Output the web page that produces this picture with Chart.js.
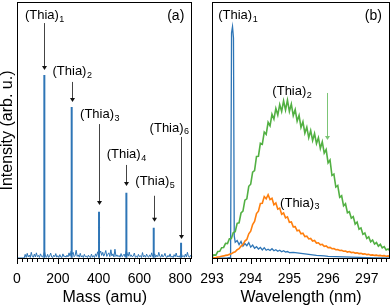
<!DOCTYPE html>
<html><head><meta charset="utf-8">
<script src="https://cdn.jsdelivr.net/npm/chart.js@4/dist/chart.umd.min.js"></script>
<style>
html,body{margin:0;padding:0;background:#fff;}
#wrap{position:relative;width:392px;height:307px;overflow:hidden;background:#fff;}
canvas{position:absolute;top:0;}
#ca{left:0;} #cb{left:196px;}
</style></head>
<body><div id="wrap"><canvas id="ca" width="196" height="307"></canvas><canvas id="cb" width="196" height="307"></canvas></div>
<script>
// ---------- Panel (a): mass spectrum ----------
const massAxis = [0,5,10,15,20,25,30,35,40,45,50,55,60,65,70,75,80,85,90,95,100,105,110,115,120,125,130,135,140,145,150,155,160,165,170,175,180,185,190,195,200,205,210,215,220,225,230,235,240,245,250,255,260,265,270,275,280,285,290,295,300,305,310,315,320,325,330,335,340,345,350,355,360,365,370,375,380,385,390,395,400,405,410,415,420,425,430,435,440,445,450,455,460,465,470,475,480,485,490,495,500,505,510,515,520,525,530,535,540,545,550,555,560,565,570,575,580,585,590,595,600,605,610,615,620,625,630,635,640,645,650,655,660,665,670,675,680,685,690,695,700,705,710,715,720,725,730,735,740,745,750,755,760,765,770,775,780,785,790,795,800,805,810,815,820,825,830,835,840,845,850,855,860];
const massNoise = [
0.4,0.4,0.4,0.4,0.4,0.4,0.4,0.4,1.8,0.6,
2.2,0.8,1.5,0.6,2.6,1.0,0.7,1.9,0.8,2.4,
0.9,1.4,0.6,2.0,1.1,0.7,1.6,2.9,1.0,0.7,
1.8,0.6,1.2,2.3,0.8,0.6,1.5,0.9,2.1,0.7,
1.3,0.6,1.7,0.8,0.6,2.0,0.9,1.2,0.7,1.5,
0.8,2.4,1.1,3.0,1.9,2.6,0.9,1.4,3.4,1.0,
1.6,0.7,2.2,0.8,1.3,0.6,1.8,0.9,1.1,0.6,
1.5,0.8,0.6,1.9,0.7,1.3,0.6,2.0,1.0,2.8,
1.2,2.2,3.1,1.4,2.6,1.1,2.0,3.3,1.0,1.8,
2.4,0.9,3.6,1.2,2.0,0.8,3.8,1.0,1.6,0.9,
1.4,0.7,2.1,0.9,1.3,1.9,0.8,3.2,2.2,1.1,
2.7,1.0,1.6,0.8,1.2,2.3,0.7,1.1,0.6,1.8,
0.9,1.3,0.6,2.5,0.8,1.4,0.7,1.9,1.0,0.7,
1.6,0.8,2.4,1.0,1.3,2.0,0.7,1.5,0.9,2.6,
1.0,0.7,1.8,0.8,1.2,2.2,0.9,0.6,1.4,0.8,
2.0,0.7,1.1,0.6,1.7,0.9,2.3,0.8,1.2,0.7,
1.5,2.4,0.9,1.3,0.7,1.9,0.8,2.6,1.0,0.7,
1.4,0.8,1.2];
const peakMass = [134, 268, 402, 536, 670, 804];
const peakInt  = [71.6, 59.1, 18.4, 25.8, 12.2, 6.3];
const peakNames = ['1','2','3','4','5','6'];
const massTicks = [0, 200, 400, 600, 800];

// ---------- Panel (b): emission spectra ----------
const wl = [293.00,293.05,293.10,293.15,293.20,293.25,293.30,293.35,293.40,293.45,
293.50,293.55,293.60,293.65,293.70,293.75,293.80,293.85,293.90,293.95,
294.00,294.05,294.10,294.15,294.20,294.25,294.30,294.35,294.40,294.45,
294.50,294.55,294.60,294.65,294.70,294.75,294.80,294.85,294.90,294.95,
295.00,295.05,295.10,295.15,295.20,295.25,295.30,295.35,295.40,295.45,
295.50,295.55,295.60,295.65,295.70,295.75,295.80,295.85,295.90,295.95,
296.00,296.05,296.10,296.15,296.20,296.25,296.30,296.35,296.40,296.45,
296.50,296.55,296.60,296.65,296.70,296.75,296.80,296.85,296.90,296.95,
297.00,297.05,297.10,297.15,297.20,297.25,297.30,297.35,297.40,297.45,
297.50,297.55,297.60];
const thia2 = [
0.9,1.6,1.5,2.9,3.0,4.4,4.5,6.1,6.0,7.9,
8.0,10.3,10.6,13.9,14.1,17.9,18.6,22.9,23.4,28.3,
29.1,33.8,34.4,39.9,40.0,45.0,44.6,49.4,48.5,53.2,
51.8,56.3,54.4,58.6,56.0,60.1,57.4,61.5,58.0,61.8,
57.4,60.3,55.8,58.1,53.6,55.9,51.2,53.4,49.0,51.3,
47.2,50.0,46.1,48.8,44.9,47.2,43.0,45.6,41.2,42.6,
37.4,38.5,32.5,33.0,28.0,28.6,24.0,24.6,20.7,21.5,
18.0,18.4,15.9,16.5,13.6,14.4,11.6,12.1,9.6,10.1,
8.0,8.6,6.7,7.4,5.8,6.4,5.0,5.7,4.3,4.8,
3.5,3.9,3.1];
const thia3 = [
0.3,0.5,0.6,0.8,0.9,1.1,1.2,1.4,1.5,1.8,
2.0,2.5,2.8,3.6,4.0,5.0,5.6,7.0,7.6,9.8,
10.8,13.4,14.6,17.7,18.6,21.6,21.7,24.3,23.4,25.0,
23.1,23.6,21.1,21.8,19.4,19.8,17.4,17.9,16.0,16.4,
14.3,14.4,12.5,12.6,11.0,11.2,9.8,10.0,8.7,8.9,
7.8,8.0,7.0,7.2,6.2,6.3,5.5,5.7,4.9,5.1,
4.4,4.5,4.0,4.1,3.6,3.7,3.3,3.4,3.0,3.1,
2.7,2.9,2.5,2.6,2.3,2.4,2.1,2.2,1.9,2.0,
1.7,1.8,1.5,1.6,1.4,1.5,1.3,1.4,1.2,1.3,
1.1,1.2,1.0];
const blueWl = [293.00,293.20,293.40,293.48,293.505,293.53,293.555,293.575,
293.60,293.65,293.70,293.75,293.80,293.85,293.90,293.95,294.00,294.05,294.10,294.15,294.20,294.25,294.30,294.35,294.40,294.45,294.50,294.55,294.60,294.65,294.70,294.75,294.80,294.85,294.90,294.95,295.00,
295.10,295.20,295.30,295.40,295.50,295.60,295.70,295.80,295.90,296.00,
296.20,296.40,296.60,296.80,297.00,297.20,297.40,297.60];
const thia1 = [0.3,0.3,0.4,0.6,88,90.4,86,9,
6.5,7.2,5.6,6.8,5.0,6.0,5.2,6.4,4.6,5.4,4.2,4.8,3.9,4.5,3.5,4.4,3.4,3.8,3.3,4.0,3.2,3.6,3.0,3.4,2.8,3.2,2.7,2.9,2.5,
2.6,2.4,2.2,2.0,1.8,1.6,1.4,1.3,1.2,1.0,
0.9,0.8,0.7,0.6,0.5,0.4,0.4,0.3];
const wlTicks = [293, 294, 295, 296, 297];

const FONT = '"Liberation Sans", Arial, Helvetica, sans-serif';
Chart.defaults.font.family = FONT;
Chart.defaults.color = '#000';

const BLUE = '#2e75b6', GREEN = '#52b043', ORANGE = '#ff7f0e';

const framePlugin = {
  id: 'frame',
  afterDraw(chart) {
    const o = chart.options.plugins.frame;
    if (!o) return;
    const ctx = chart.ctx, a = chart.chartArea;
    const xs = chart.scales.x, ys = chart.scales.y;
    ctx.save();
    const L = Math.round(a.left) + 0.5, R = Math.round(a.right) - 0.5;
    const T = Math.round(a.top) + 0.5, B = Math.round(a.bottom) - 0.5;
    ctx.strokeStyle = '#000'; ctx.lineWidth = 1;
    ctx.strokeRect(L, T, R - L, B - T);
    ctx.beginPath();
    for (let v = o.min; v <= o.max + 1e-9; v += o.minorStep) {
      const px = Math.round(xs.getPixelForValue(v)) + 0.5;
      if (px < L - 0.1 || px > R + 0.1) continue;
      ctx.moveTo(px, B); ctx.lineTo(px, B + 3.5);
    }
    o.major.forEach(v => {
      const px = Math.round(xs.getPixelForValue(v)) + 0.5;
      ctx.moveTo(px, B); ctx.lineTo(px, B + 5.5);
    });
    ctx.stroke();
    (o.arrows || []).forEach(ar => {
      const px = Math.round(xs.getPixelForValue(ar.x)) + 0.5;
      const y1 = ys.getPixelForValue(ar.y1), y2 = ys.getPixelForValue(ar.y2);
      ctx.strokeStyle = ar.color; ctx.fillStyle = ar.headColor || ar.color; ctx.lineWidth = 1;
      ctx.beginPath(); ctx.moveTo(px, y1); ctx.lineTo(px, y2 - 3); ctx.stroke();
      ctx.beginPath(); ctx.moveTo(px - 2.5, y2 - 4); ctx.lineTo(px + 2.5, y2 - 4); ctx.lineTo(px, y2); ctx.closePath(); ctx.fill();
    });
    ctx.fillStyle = '#000'; ctx.textBaseline = 'middle'; ctx.textAlign = 'left';
    (o.labels || []).forEach(lb => {
      const cx = xs.getPixelForValue(lb.x), cy = ys.getPixelForValue(lb.y);
      ctx.font = lb.size + 'px ' + FONT;
      const w1 = ctx.measureText(lb.main).width;
      let w2 = 0;
      if (lb.sub) { ctx.font = Math.round(lb.size * 0.7) + 'px ' + FONT; w2 = ctx.measureText(lb.sub).width + 0.5; }
      const left = cx - (w1 + w2) / 2;
      ctx.font = lb.size + 'px ' + FONT;
      ctx.fillText(lb.main, left, cy);
      if (lb.sub) { ctx.font = Math.round(lb.size * 0.7) + 'px ' + FONT; ctx.fillText(lb.sub, left + w1 + 0.5, cy + 4); }
    });
    ctx.restore();
  }
};

function xAxis(min, max, ticks, title) {
  return {
    type: 'linear', min: min, max: max,
    afterBuildTicks: s => { s.ticks = ticks.map(v => ({ value: v })); },
    afterFit: s => { s.height = 48; },
    grid: { display: false },
    border: { display: false },
    ticks: { padding: 4, font: { size: 14 }, maxRotation: 0, autoSkip: false, color: '#000' },
    title: { display: true, text: title, font: { size: 16 }, padding: { top: 0, bottom: 0 }, color: '#000' }
  };
}

// Panel (a)
const noisePts = massNoise.map((v, i) => ({ x: massAxis[i], y: v }));
const peakPts = [];
peakMass.forEach((m, i) => { peakPts.push({ x: m, y: 0.5 }, { x: m, y: peakInt[i] }, { x: m, y: null }); });

const labA = [
  { x: 135.3, y: 94.6 }, { x: 270.6, y: 72.8 }, { x: 405.8, y: 56.4 },
  { x: 536.3, y: 40.5 }, { x: 676.4, y: 30.1 }, { x: 746.5, y: 51.0 }
];
const arrowTopA = [91.8, 68.9, 52.5, 36.6, 24.6, 47.5];
const arrowBotA = [73.5, 61.1, 21.0, 28.4, 14.5, 7.8];

new Chart(document.getElementById('ca'), {
  type: 'line',
  data: { datasets: [
    { data: noisePts, borderColor: BLUE, borderWidth: 1, pointRadius: 0, tension: 0, fill: false },
    { data: peakPts, borderColor: BLUE, borderWidth: 2, pointRadius: 0, tension: 0, fill: false, spanGaps: false }
  ] },
  options: {
    responsive: false, animation: false, events: [],
    layout: { padding: { top: 2, right: 1, left: 0, bottom: 0 } },
    scales: {
      x: xAxis(0, 860, massTicks, 'Mass (amu)'),
      y: {
        type: 'linear', min: 0, max: 100,
        afterFit: s => { s.width = 17; },
        grid: { display: false }, border: { display: false },
        ticks: { display: false },
        title: { display: true, text: 'Intensity (arb. u.)', font: { size: 16, lineHeight: 1 }, padding: 0, color: '#000' }
      }
    },
    plugins: {
      legend: { display: false }, tooltip: { enabled: false },
      frame: {
        min: 0, max: 860, minorStep: 25, major: massTicks,
        arrows: peakMass.map((m, i) => ({ x: m, y1: arrowTopA[i], y2: arrowBotA[i], color: '#444', headColor: '#111' })),
        labels: labA.map((p, i) => ({ x: p.x, y: p.y, main: '(Thia)', sub: peakNames[i], size: 13 }))
          .concat([{ x: 778, y: 94.6, main: '(a)', sub: '', size: 14 }])
      }
    }
  },
  plugins: [framePlugin]
});

// Panel (b)
new Chart(document.getElementById('cb'), {
  type: 'line',
  data: { datasets: [
    { data: thia2.map((v, i) => ({ x: wl[i], y: v })), borderColor: GREEN, borderWidth: 1.6, pointRadius: 0, tension: 0, fill: false },
    { data: thia3.map((v, i) => ({ x: wl[i], y: v })), borderColor: ORANGE, borderWidth: 1.6, pointRadius: 0, tension: 0, fill: false },
    { data: thia1.map((v, i) => ({ x: blueWl[i], y: v })), borderColor: BLUE, borderWidth: 1.3, pointRadius: 0, tension: 0, fill: false }
  ] },
  options: {
    responsive: false, animation: false, events: [],
    layout: { padding: { top: 2, right: 2, left: 16, bottom: 0 } },
    scales: {
      x: xAxis(293, 297.6, wlTicks, 'Wavelength (nm)'),
      y: { type: 'linear', min: 0, max: 100, display: false }
    },
    plugins: {
      legend: { display: false }, tooltip: { enabled: false },
      frame: {
        min: 293, max: 297.6, minorStep: 0.125, major: wlTicks,
        arrows: [{ x: 295.96, y1: 64.6, y2: 46.3, color: '#7cc576' }],
        labels: [
          { x: 293.67, y: 94.6, main: '(Thia)', sub: '1', size: 13 },
          { x: 295.07, y: 65.1, main: '(Thia)', sub: '2', size: 13 },
          { x: 295.27, y: 21.8, main: '(Thia)', sub: '3', size: 13 },
          { x: 297.17, y: 94.6, main: '(b)', sub: '', size: 14 }
        ]
      }
    }
  },
  plugins: [framePlugin]
});
</script>
</body></html>
